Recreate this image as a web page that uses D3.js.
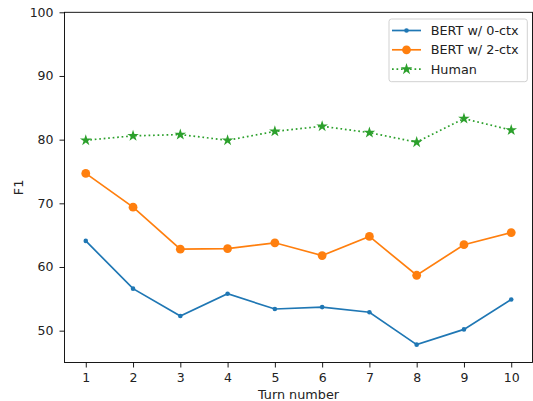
<!DOCTYPE html>
<html><head><meta charset="utf-8">
<script src="https://cdn.jsdelivr.net/npm/d3@7"></script>
<style>body{margin:0;background:#fff}svg{display:block}text{font-family:"DejaVu Sans",sans-serif}</style>
</head><body>
<svg id="c" width="533" height="401"></svg>
<script>
const turns = [1,2,3,4,5,6,7,8,9,10];
const bert0 = [64.1,56.6,52.3,55.8,53.4,53.7,52.9,47.8,50.2,54.9];
const bert2 = [74.7,69.4,62.8,62.9,63.8,61.8,64.8,58.7,63.5,65.4];
const human = [79.9,80.6,80.8,79.9,81.3,82.1,81.1,79.6,83.3,81.5];
const yTicks = [50,60,70,80,90,100];
const seriesNames = ["BERT w/ 0-ctx","BERT w/ 2-ctx","Human"];

const svg = d3.select("#c");
const L=64.5, R=532.5, T=12.3, B=362.5;
const x = d3.scaleLinear().domain([0.55,10.45]).range([L,R]);
const y = d3.scaleLinear().domain([45,100]).range([B,T]);
const fs = "12.5px";
const fsL = "12.8px";

const xa = svg.append("g").attr("transform",`translate(0,${B})`)
  .call(d3.axisBottom(x).tickValues(turns).tickFormat(d3.format("d")).tickSize(5).tickPadding(5.5));
const ya = svg.append("g").attr("transform",`translate(${L},0)`)
  .call(d3.axisLeft(y).tickValues(yTicks).tickSize(5).tickPadding(6));
[xa,ya].forEach(a=>{
  a.select(".domain").remove();
  a.selectAll("line").attr("stroke","#000").attr("stroke-width",0.9);
  a.selectAll("text").attr("font-size",fs).attr("fill","#222").attr("font-family","DejaVu Sans");
});
svg.append("rect").attr("x",L).attr("y",T).attr("width",R-L).attr("height",B-T)
  .attr("fill","none").attr("stroke","#000").attr("stroke-width",0.9);

svg.append("text").attr("x",(L+R)/2).attr("y",399).attr("text-anchor","middle")
  .attr("font-size",fsL).attr("fill","#222").text("Turn number");
svg.append("text").attr("transform",`translate(23,${(T+B)/2}) rotate(-90)`).attr("text-anchor","middle")
  .attr("font-size",fsL).attr("fill","#222").text("F1");

const line = d3.line().x((d,i)=>x(turns[i])).y(d=>y(d));
const star = d3.symbol().type(d3.symbolStar).size(42);

function drawSeries(vals,color,marker,dash){
  const g = svg.append("g");
  g.append("path").datum(vals).attr("d",line).attr("fill","none")
    .attr("stroke",color).attr("stroke-width",1.7)
    .attr("stroke-dasharray",dash||null);
  if(marker==="dot"){
    g.selectAll("circle").data(vals).join("circle")
      .attr("cx",(d,i)=>x(turns[i])).attr("cy",d=>y(d)).attr("r",2.3).attr("fill",color);
  } else if(marker==="o"){
    g.selectAll("circle").data(vals).join("circle")
      .attr("cx",(d,i)=>x(turns[i])).attr("cy",d=>y(d)).attr("r",4.4).attr("fill",color);
  } else {
    g.selectAll("path.m").data(vals).join("path").attr("class","m")
      .attr("d",star).attr("transform",(d,i)=>`translate(${x(turns[i])},${y(d)})`).attr("fill",color);
  }
}
drawSeries(bert0,"#1f77b4","dot");
drawSeries(bert2,"#ff7f0e","o");
drawSeries(human,"#2ca02c","star","1.7,2.8");

const lg = svg.append("g");
lg.append("rect").attr("x",389).attr("y",19).attr("width",138.3).attr("height",62.7).attr("rx",2.5)
  .attr("fill","#fff").attr("fill-opacity",0.8).attr("stroke","#ccc").attr("stroke-width",0.9);
const rows=[30.5,49.8,69.2];
const cols=["#1f77b4","#ff7f0e","#2ca02c"];
seriesNames.forEach((n,i)=>{
  const yy=rows[i];
  lg.append("line").attr("x1",392).attr("x2",421).attr("y1",yy).attr("y2",yy)
    .attr("stroke",cols[i]).attr("stroke-width",1.7).attr("stroke-dasharray",i===2?"1.7,2.8":null);
  if(i===0) lg.append("circle").attr("cx",406.5).attr("cy",yy).attr("r",2.3).attr("fill",cols[i]);
  if(i===1) lg.append("circle").attr("cx",406.5).attr("cy",yy).attr("r",4.4).attr("fill",cols[i]);
  if(i===2) lg.append("path").attr("d",star).attr("transform",`translate(406.5,${yy})`).attr("fill",cols[i]);
  lg.append("text").attr("x",430.7).attr("y",yy+4.6).attr("font-size",fsL).attr("fill","#222").text(n);
});
</script>
</body></html>
